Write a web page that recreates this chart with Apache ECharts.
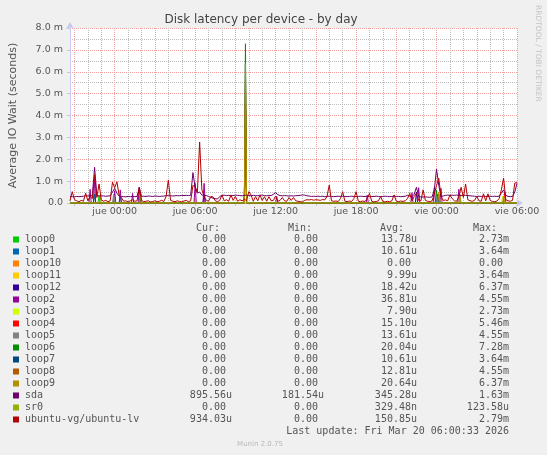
<!DOCTYPE html>
<html><head><meta charset="utf-8">
<script src="https://cdn.jsdelivr.net/npm/echarts@6/dist/echarts.min.js"></script>
<style>html,body{margin:0;padding:0;background:#f0f0f0}#c{width:547px;height:455px}</style>
</head><body><div id="c"></div>
<script>
// ---- data ----
const chartTitle = 'Disk latency per device - by day';
const yAxisName = 'Average IO Wait (seconds)';
const totalMinutes = 2000;          // Wed 20:40 -> Fri 06:00
const stepMinutes = 10;
const xTickLabels = ['jue 00:00','jue 06:00','jue 12:00','jue 18:00','vie 00:00','vie 06:00'];
const xTickMinutes = [200, 560, 920, 1280, 1640, 2000];

const seriesNames = ['loop0','loop1','loop10','loop11','loop12','loop2','loop3','loop4','loop5','loop6','loop7','loop8','loop9','sda','sr0','ubuntu-vg/ubuntu-lv'];
const seriesColors = ['#00CC00','#0066B3','#FF8000','#FFCC00','#330099','#990099','#CCFF00','#FF0000','#808080','#008F00','#00487D','#B35A00','#B38F00','#6B006B','#8FB300','#B30000'];
const curVals = ['0.00','0.00','0.00','0.00','0.00','0.00','0.00','0.00','0.00','0.00','0.00','0.00','0.00','895.56u','0.00','934.03u'];
const minVals = ['0.00','0.00','0.00','0.00','0.00','0.00','0.00','0.00','0.00','0.00','0.00','0.00','0.00','181.54u','0.00','0.00'];
const avgVals = ['13.78u','10.61u','0.00','9.99u','18.42u','36.81u','7.90u','15.10u','13.61u','20.04u','10.61u','12.81u','20.64u','345.28u','329.48n','150.85u'];
const maxVals = ['2.73m','3.64m','0.00','3.64m','6.37m','4.55m','2.73m','5.46m','4.55m','7.28m','3.64m','4.55m','6.37m','1.63m','123.58u','2.79m'];
const lastUpdate = 'Last update: Fri Mar 20 06:00:33 2026';

// values in milliseconds, one per 10 minutes
const sdaValues = [
0.30,0.29,0.28,0.30,0.29,0.30,0.31,0.33,0.32,0.34,
0.33,1.63,0.34,0.32,0.33,0.32,0.31,0.32,0.33,0.50,
0.67,0.45,0.31,0.30,0.29,0.28,0.30,0.29,0.30,0.29,
0.30,0.70,0.30,0.31,0.30,0.32,0.31,0.30,0.32,0.31,
0.30,0.31,0.32,0.33,0.34,0.33,0.32,0.33,0.34,0.33,
0.35,0.34,0.35,0.34,0.35,1.39,0.70,0.45,0.50,0.36,
0.35,0.34,0.30,0.25,0.22,0.20,0.18,0.30,0.35,0.36,
0.34,0.35,0.33,0.34,0.36,0.35,0.34,0.33,0.35,0.36,
0.34,0.33,0.35,0.34,0.33,0.35,0.36,0.34,0.33,0.35,
0.34,0.40,0.47,0.38,0.34,0.33,0.34,0.33,0.32,0.33,
0.32,0.33,0.34,0.35,0.37,0.36,0.33,0.32,0.30,0.31,
0.30,0.31,0.30,0.31,0.29,0.30,0.31,0.30,0.29,0.30,
0.31,0.30,0.31,0.30,0.29,0.30,0.31,0.30,0.29,0.30,
0.31,0.30,0.30,0.31,0.29,0.30,0.30,0.31,0.30,0.29,
0.30,0.31,0.30,0.29,0.30,0.31,0.30,0.30,0.29,0.30,
0.31,0.35,0.32,0.29,0.40,0.72,0.30,0.28,0.27,0.28,
0.27,0.26,0.28,0.60,1.55,0.80,0.30,0.32,0.35,0.36,
0.35,0.36,0.35,0.36,0.35,0.34,0.36,0.35,0.34,0.33,
0.32,0.31,0.30,0.31,0.30,0.31,0.30,0.30,0.31,0.30,
0.31,0.30,0.31,0.45,0.60,0.35,0.30,0.29,0.30,0.50,
0.90];
const lvValues = [
0.10,0.52,0.15,0.10,0.05,0.12,0.08,0.45,0.10,0.30,
0.20,1.30,0.25,0.87,0.15,0.08,0.12,0.06,0.10,0.95,
0.70,0.97,0.35,0.25,0.08,0.10,0.05,0.10,0.15,0.08,
0.10,0.72,0.12,0.06,0.08,0.10,0.05,0.07,0.10,0.06,
0.08,0.12,0.07,0.30,1.05,0.12,0.08,0.06,0.10,0.07,
0.05,0.09,0.12,0.06,0.10,0.80,0.75,0.50,2.79,0.60,
0.30,0.12,0.08,0.30,0.28,0.10,0.06,0.12,0.37,0.10,
0.15,0.08,0.37,0.12,0.30,0.08,0.15,0.10,0.18,0.10,
0.52,0.37,0.08,0.29,0.10,0.37,0.12,0.29,0.08,0.29,
0.10,0.12,0.32,0.08,0.12,0.25,0.10,0.08,0.25,0.12,
0.25,0.10,0.08,0.06,0.05,0.12,0.15,0.14,0.16,0.13,
0.15,0.14,0.12,0.16,0.14,0.30,0.82,0.10,0.08,0.09,
0.07,0.20,0.52,0.08,0.06,0.09,0.07,0.20,0.52,0.08,
0.06,0.09,0.07,0.20,0.44,0.08,0.05,0.07,0.10,0.29,
0.06,0.05,0.08,0.06,0.10,0.37,0.08,0.06,0.09,0.07,
0.10,0.20,0.44,0.10,0.30,0.45,0.12,0.10,0.60,0.12,
0.08,0.06,0.10,0.40,0.80,1.13,0.30,0.12,0.14,0.10,
0.37,0.20,0.10,0.08,0.30,0.72,0.25,0.87,0.15,0.10,
0.08,0.12,0.30,0.10,0.08,0.42,0.10,0.42,0.12,0.07,
0.06,0.09,0.20,0.60,1.14,0.15,0.10,0.08,0.12,0.91,
0.93];

// sparse series: [minute, ms]; value is 0 elsewhere
const loop0Spikes  = [[130,0.35],[315,0.3],[785,2.73],[1650,0.4]];
const loop1Spikes  = [[225,0.3],[785,3.64],[1645,0.4]];
const loop10Spikes = [];
const loop11Spikes = [[560,0.2],[785,3.64]];
const loop12Spikes = [[600,0.4],[785,6.37],[1550,0.5]];
const loop2Spikes  = [[90,0.63],[110,1.1],[200,0.55],[225,0.6],[280,0.44],[310,0.72],[560,0.9],[600,0.9],[785,4.55],[925,0.3],[1330,0.35],[1530,0.47],[1560,0.7],[1630,0.7],[1660,0.67],[1740,0.63]];
const loop3Spikes  = [[785,2.73],[1935,0.3]];
const loop4Spikes  = [[785,5.46],[1945,0.5]];
const loop5Spikes  = [[195,0.4],[785,4.55]];
const loop6Spikes  = [[315,0.3],[785,7.28],[1640,0.6]];
const loop7Spikes  = [[110,0.4],[785,3.64]];
const loop8Spikes  = [[785,4.55],[1650,0.4]];
const loop9Spikes  = [[135,0.3],[315,0.35],[785,6.37],[1650,0.5],[1745,0.4],[1940,0.3]];
const sr0Spikes    = [[1745,0.12]];

// ---- build ----
function stepSeries(vals){ return vals.map((v,i)=>[i*stepMinutes, v]); }
function spikeSeries(spikes){
  const pts=[[0,0]];
  spikes.slice().sort((a,b)=>a[0]-b[0]).forEach(([m,v])=>{ pts.push([m-5,0],[m,v],[m+5,0]); });
  pts.push([totalMinutes,0]);
  return pts;
}
const seriesData = [
  spikeSeries(loop0Spikes), spikeSeries(loop1Spikes), spikeSeries(loop10Spikes), spikeSeries(loop11Spikes),
  spikeSeries(loop12Spikes), spikeSeries(loop2Spikes), spikeSeries(loop3Spikes), spikeSeries(loop4Spikes),
  spikeSeries(loop5Spikes), spikeSeries(loop6Spikes), spikeSeries(loop7Spikes), spikeSeries(loop8Spikes),
  spikeSeries(loop9Spikes), stepSeries(sdaValues), spikeSeries(sr0Spikes), stepSeries(lvValues)
];

const hourTicks = []; for (let m=20; m<=totalMinutes; m+=60) { if ((m-20)%180!==0) hourTicks.push(m); }
const threeHourTicks = []; for (let m=20; m<=totalMinutes; m+=180) threeHourTicks.push(m);

const textColor = '#555';
const mono = '10px "DejaVu Sans Mono"';
const minorGrid = {color:'#bdbdbd', type:[1,1], width:1};
const majorGrid = {color:'#f4a0a0', type:[1,1], width:1};
const graphics = [];
graphics.push({type:'text', x:261, y:19.5, style:{text:chartTitle, font:'12px "DejaVu Sans"', fill:'#444', align:'center', verticalAlign:'middle'}});
graphics.push({type:'text', x:537.5, y:5, rotation:-Math.PI/2, style:{text:'RRDTOOL / TOBI OETIKER', font:'7.5px "DejaVu Sans"', fill:'#c4c4c4', align:'left', verticalAlign:'middle'}});
const headY = 228.5;
[['Cur:',220],['Min:',312],['Avg:',404],['Max:',497]].forEach(([t,x])=>{
  graphics.push({type:'text', x:x, y:headY, style:{text:t, font:mono, fill:textColor, align:'right', verticalAlign:'middle'}});
});
function cell(s){ return /[a-z]$/.test(s) ? s : s + ' '; }
seriesNames.forEach((n,i)=>{
  const y = 239.5 + 12*i;
  graphics.push({type:'rect', shape:{x:13, y:y-3, width:6, height:6}, style:{fill:seriesColors[i]}});
  graphics.push({type:'text', x:25, y:y, style:{text:n, font:mono, fill:textColor, align:'left', verticalAlign:'middle'}});
  [[curVals,232],[minVals,324],[avgVals,417],[maxVals,509]].forEach(([arr,x])=>{
    graphics.push({type:'text', x:x, y:y, style:{text:cell(arr[i]), font:mono, fill:textColor, align:'right', verticalAlign:'middle'}});
  });
});
graphics.push({type:'text', x:509, y:239.5+12*16, style:{text:lastUpdate, font:mono, fill:textColor, align:'right', verticalAlign:'middle'}});
graphics.push({type:'text', x:260, y:444.5, style:{text:'Munin 2.0.75', font:'7px "DejaVu Sans"', fill:'#b8b8b8', align:'center', verticalAlign:'middle'}});

const chart = echarts.init(document.getElementById('c'), null, {renderer:'canvas'});
chart.setOption({
  animation:false,
  backgroundColor:'#f0f0f0',
  textStyle:{fontFamily:'"DejaVu Sans"'},
  grid:{left:67, right:30, top:28, bottom:252, show:true, backgroundColor:'#ffffff', borderWidth:0, containLabel:false},
  xAxis:[
    {type:'value', min:0, max:totalMinutes, position:'bottom',
     axisLine:{show:true, onZero:false, lineStyle:{color:'#c8c8f0'}, symbol:['none','arrow'], symbolSize:[6,7], symbolOffset:[0,6]},
     axisTick:{show:true, customValues:hourTicks, length:2, lineStyle:{color:'#c8c8c8'}},
     axisLabel:{customValues:xTickMinutes, formatter:v=>xTickLabels[xTickMinutes.indexOf(v)], color:textColor, fontSize:9.5, fontFamily:'"DejaVu Sans"', margin:4},
     splitLine:{show:true, lineStyle:minorGrid}},
    {type:'value', min:0, max:totalMinutes, position:'bottom',
     axisLine:{show:false}, axisLabel:{show:false},
     axisTick:{show:true, customValues:threeHourTicks, length:3, lineStyle:{color:'#c8c8c8'}},
     splitLine:{show:true, lineStyle:majorGrid}}
  ],
  yAxis:{type:'value', min:0, max:8, interval:1,
    name:yAxisName, nameLocation:'middle', nameGap:51, nameTextStyle:{color:textColor, fontSize:11, fontFamily:'"DejaVu Sans"'},
    axisLine:{show:true, lineStyle:{color:'#c8c8f0'}, symbol:['none','arrow'], symbolSize:[6,7], symbolOffset:[0,6]},
    axisTick:{show:true, length:3, lineStyle:{color:'#c8c8c8'}},
    axisLabel:{color:textColor, fontSize:9.5, fontFamily:'"DejaVu Sans"', margin:7, formatter:v=> v===0 ? '0.0' : v.toFixed(1)+' m'},
    splitLine:{show:true, lineStyle:majorGrid},
    minorTick:{show:false, splitNumber:2},
    minorSplitLine:{show:true, lineStyle:minorGrid}},
  graphic:graphics,
  series: seriesNames.map((n,i)=>({
    name:n, type:'line', data:seriesData[i], xAxisIndex:0, showSymbol:false, symbol:'none',
    silent:true, lineStyle:{width:1, color:seriesColors[i]}, itemStyle:{color:seriesColors[i]}, z:2+i*0.01
  }))
});
</script></body></html>
